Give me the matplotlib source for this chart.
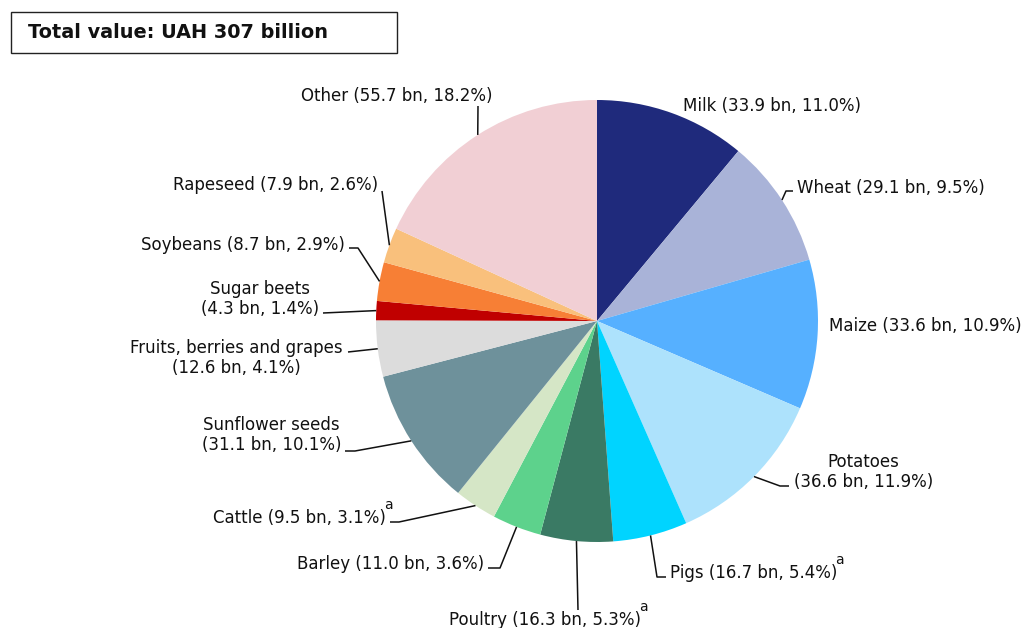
import numpy as np
import matplotlib.pyplot as plt
from matplotlib.patches import Rectangle

# Gross agricultural output by product, UAH billion
categories = ["Milk", "Wheat", "Maize", "Potatoes", "Pigs", "Poultry", "Barley",
              "Cattle", "Sunflower seeds", "Fruits, berries and grapes",
              "Sugar beets", "Soybeans", "Rapeseed", "Other"]
values_bn = [33.9, 29.1, 33.6, 36.6, 16.7, 16.3, 11.0, 9.5, 31.1, 12.6,
             4.3, 8.7, 7.9, 55.7]
shares_pct = [11.0, 9.5, 10.9, 11.9, 5.4, 5.3, 3.6, 3.1, 10.1, 4.1,
              1.4, 2.9, 2.6, 18.2]
footnote_a = ["Pigs", "Poultry", "Cattle"]
total_bn = 307
colors = ["#1f2a7c", "#a9b3d8", "#56b0ff", "#ade2fc", "#00d4ff", "#3a7a64",
          "#5dd28c", "#d5e6c6", "#6e919b", "#dcdcdc", "#c00000", "#f77f35",
          "#f9c07c", "#f1cfd4"]

W, H = 1022, 628
fig = plt.figure(figsize=(W / 100, H / 100), dpi=100)
ax = fig.add_axes([0, 0, 1, 1])


def P(x, y):
    """Canvas position measured from the top-left corner."""
    return (x, H - y)


cx, cy = P(597, 321)
R = 221
wedges, _ = ax.pie(values_bn, colors=colors, startangle=90, counterclock=False,
                   center=(cx, cy), radius=R, wedgeprops=dict(linewidth=0))
ax.set_xlim(0, W)
ax.set_ylim(0, H)
ax.set_aspect("equal")
ax.axis("off")

# label layout: (x, y, ha, two_lines, leader points after the wedge edge)
layout = {
    "Milk": (683, 106, "left", False, None),
    "Wheat": (797, 188, "left", False, [(786, 191), (793, 191)]),
    "Maize": (829, 326, "left", False, None),
    "Potatoes": (794, 472, "left", True, [(780, 486), (789, 486)]),
    "Pigs": (670, 573, "left", False, [(657, 577), (666, 577)]),
    "Poultry": (449, 620, "left", False, [(578, 610)]),
    "Barley": (484, 564, "right", False, [(500, 568), (488, 568)]),
    "Cattle": (386, 518, "right", False, [(399, 522), (390, 522)]),
    "Sunflower seeds": (341, 435, "right", True, [(355, 451), (345, 451)]),
    "Fruits, berries and grapes": (343, 358, "right", True, [(348, 352)]),
    "Sugar beets": (319, 299, "right", True, [(323, 313)]),
    "Soybeans": (345, 245, "right", False, [(358, 248), (349, 248)]),
    "Rapeseed": (378, 185, "right", False, [(382, 191)]),
    "Other": (397, 96, "center", False, [(478, 106)]),
}

FS = 12
for name, val, pct, w in zip(categories, values_bn, shares_pct, wedges):
    x, y, ha, two_lines, leader = layout[name]
    sep = "\n" if two_lines else " "
    label = f"{name}{sep}({val:.1f} bn, {pct:.1f}%)"
    txt = ax.text(*P(x, y), label, ha=ha, va="center", fontsize=FS,
                  multialignment="center", color="#111111",
                  linespacing=1.1)
    if name in footnote_a:
        ax.annotate("a", xy=(1, 1), xycoords=txt, xytext=(-1.5, -2),
                    textcoords="offset points", ha="left", va="bottom",
                    fontsize=10, color="#111111")
    if leader:
        mid = np.deg2rad((w.theta1 + w.theta2) / 2)
        pts = [(cx + R * np.cos(mid), cy + R * np.sin(mid))]
        pts += [P(px, py) for px, py in leader]
        xs, ys = zip(*pts)
        ax.plot(xs, ys, color="#111111", lw=1.1, solid_capstyle="butt")

# total value box
bx0, by0, bx1, by1 = 11, 12, 397, 53
ax.add_patch(Rectangle(P(bx0, by1), bx1 - bx0, by1 - by0, fill=False,
                       edgecolor="#222222", lw=1.0))
ax.text(*P(28, 32), f"Total value: UAH {total_bn} billion", ha="left",
        va="center", fontsize=13.9, fontweight="bold", color="#111111")

fig.savefig("out.png", dpi=100)
